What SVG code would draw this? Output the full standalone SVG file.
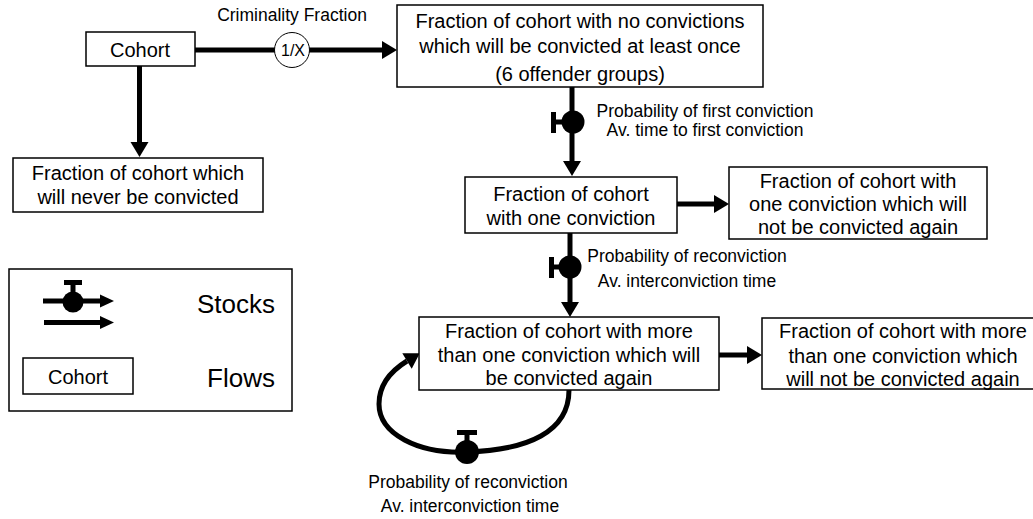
<svg xmlns="http://www.w3.org/2000/svg" width="1033" height="519" viewBox="0 0 1033 519">
<style>
.box{fill:#fff;stroke:#000;stroke-width:1.5}
.t{font-family:"Liberation Sans",Arial,Helvetica,sans-serif;font-size:20px;fill:#000;text-anchor:middle}
.lbl{font-size:17.5px}
.big{font-size:26px;text-anchor:end}
.flow{stroke:#000;stroke-width:5;fill:none}
.valve{fill:#000}
</style>
<defs>
<marker id="ah" markerUnits="userSpaceOnUse" markerWidth="15" markerHeight="18" refX="0" refY="9" orient="auto" overflow="visible">
<path d="M0,0 L15,9 L0,18 z" fill="#000"/>
</marker>
<marker id="ahs" markerUnits="userSpaceOnUse" markerWidth="14" markerHeight="13" refX="0" refY="6.5" orient="auto" overflow="visible">
<path d="M0,0 L14,6.5 L0,13 z" fill="#000"/>
</marker>
</defs>

<g id="connectors">
<line class="flow" x1="195" y1="50" x2="382" y2="50" marker-end="url(#ah)"/>
<line class="flow" x1="139.5" y1="66" x2="139.5" y2="142" marker-end="url(#ah)"/>
<line class="flow" x1="572" y1="87" x2="572" y2="161" marker-end="url(#ah)"/>
<line class="flow" x1="677" y1="204" x2="714" y2="204" marker-end="url(#ah)"/>
<line class="flow" x1="570" y1="233" x2="570" y2="302" marker-end="url(#ah)"/>
<line class="flow" x1="719" y1="355" x2="747" y2="355" marker-end="url(#ah)"/>
<path class="flow" d="M569,390 C569,432 528,450 467,452 C418,454 379,434 379,404 C379,382 394,369 407,361" marker-end="url(#ah)"/>
</g>

<g id="criminality-fraction">
<circle cx="292" cy="50" r="17.5" fill="#fff" stroke="#000" stroke-width="1"/>
<text class="t" x="293" y="56" style="font-size:16px">1/X</text>
<text class="t lbl" x="292" y="21">Criminality Fraction</text>
</g>

<g id="valve-first">
<circle class="valve" cx="573" cy="122" r="11.5"/>
<rect class="valve" x="555" y="119.5" width="8" height="5"/>
<rect class="valve" x="551" y="112" width="5" height="21"/>
<text class="t lbl" x="705" y="117">Probability of first conviction</text>
<text class="t lbl" x="705" y="136">Av. time to first conviction</text>
</g>

<g id="valve-reconviction">
<circle class="valve" cx="570" cy="267" r="11.5"/>
<rect class="valve" x="553" y="264.5" width="8" height="5"/>
<rect class="valve" x="549" y="257" width="5" height="21"/>
<text class="t lbl" x="687" y="262">Probability of reconviction</text>
<text class="t lbl" x="687" y="287">Av. interconviction time</text>
</g>

<g id="valve-loop">
<circle class="valve" cx="467" cy="452" r="12"/>
<rect class="valve" x="464.5" y="433" width="5" height="9"/>
<rect class="valve" x="457" y="430" width="20" height="5"/>
<text class="t lbl" x="468" y="488">Probability of reconviction</text>
<text class="t lbl" x="470" y="512">Av. interconviction time</text>
</g>

<g id="cohort">
<rect class="box" x="86" y="32" width="109" height="34"/>
<text class="t" x="140" y="57">Cohort</text>
</g>

<g id="never-convicted">
<rect class="box" x="13" y="158" width="250" height="54"/>
<text class="t" x="138" y="180">Fraction of cohort which</text>
<text class="t" x="138" y="204">will never be convicted</text>
</g>

<g id="no-convictions">
<rect class="box" x="397" y="5" width="366" height="82"/>
<text class="t" x="580" y="28">Fraction of cohort with no convictions</text>
<text class="t" x="580" y="53">which will be convicted at least once</text>
<text class="t" x="580" y="81">(6 offender groups)</text>
</g>

<g id="one-conviction">
<rect class="box" x="465" y="177" width="212" height="56"/>
<text class="t" x="571" y="201">Fraction of cohort</text>
<text class="t" x="571" y="225">with one conviction</text>
</g>

<g id="one-not-again">
<rect class="box" x="729" y="167" width="258" height="72"/>
<text class="t" x="858" y="188">Fraction of cohort with</text>
<text class="t" x="858" y="211">one conviction which will</text>
<text class="t" x="858" y="234">not be convicted again</text>
</g>

<g id="more-again">
<rect class="box" x="419" y="317" width="300" height="73"/>
<text class="t" x="569" y="338">Fraction of cohort with more</text>
<text class="t" x="569" y="362">than one conviction which will</text>
<text class="t" x="569" y="385">be convicted again</text>
</g>

<g id="more-not-again">
<rect class="box" x="762" y="318" width="282" height="71"/>
<text class="t" x="903" y="338">Fraction of cohort with more</text>
<text class="t" x="903" y="363">than one conviction which</text>
<text class="t" x="903" y="386">will not be convicted again</text>
</g>

<g id="legend">
<rect class="box" x="9" y="269" width="283" height="142"/>
<line class="flow" x1="43" y1="301" x2="100" y2="301" marker-end="url(#ahs)"/>
<circle class="valve" cx="73" cy="302" r="10.5"/>
<rect class="valve" x="70.5" y="284" width="5" height="9"/>
<rect class="valve" x="64" y="280" width="18" height="5"/>
<line class="flow" x1="44" y1="322.5" x2="100" y2="322.5" marker-end="url(#ahs)"/>
<text class="t big" x="275" y="313">Stocks</text>
<rect class="box" x="23" y="358" width="110" height="36"/>
<text class="t" x="78" y="384">Cohort</text>
<text class="t big" x="275" y="387">Flows</text>
</g>
</svg>
